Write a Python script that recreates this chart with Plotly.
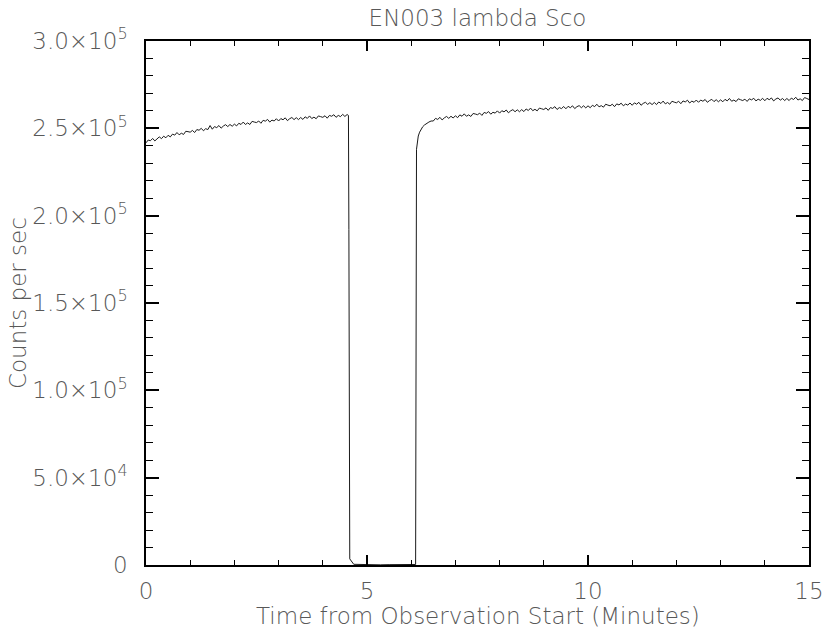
import numpy as np
import plotly.graph_objects as go

# Count rate in units of 10^3 counts/sec, sampled every 0.05 min
CADENCE = 0.05

# Before the occultation: t = 0.00 ... 4.55 min
pre_start = 0.0
pre_rate = [
    241.7, 243.3, 242.9, 244.2, 242.8, 244.2, 245.1, 244.1, 245.5, 244.6,
    246.0, 245.1, 246.7, 246.1, 247.6, 246.3, 247.2, 246.5, 248.3, 248.1,
    247.8, 248.8, 247.6, 249.3, 248.9, 250.0, 248.6, 249.8, 249.3, 251.6,
    249.5, 251.0, 250.4, 251.6, 250.1, 251.3, 252.1, 251.0, 252.2, 251.2,
    252.4, 251.4, 252.9, 252.2, 253.6, 252.2, 253.1, 252.2, 254.0, 253.6,
    253.3, 254.2, 252.9, 254.6, 254.1, 255.1, 253.6, 254.7, 254.2, 255.5,
    254.2, 255.6, 254.9, 256.0, 254.4, 255.5, 256.2, 255.0, 256.1, 255.0,
    256.2, 255.1, 256.6, 255.7, 257.1, 255.6, 256.4, 255.5, 257.1, 256.7,
    256.3, 257.2, 255.8, 257.4, 256.9, 257.8, 256.3, 257.4, 256.7, 258.0,
    256.8, 257.9,
]

# Ingress, occulted interval and egress (irregular sampling)
gap_time = [4.58, 4.59, 4.61, 4.70, 4.90, 5.10, 5.30, 5.50, 5.70, 5.90,
            6.10, 6.12, 6.14, 6.16, 6.19, 6.22, 6.26, 6.30, 6.35, 6.40, 6.45]
gap_rate = [257.4, 192.0, 3.5, 0.4, 0.2, 0.3, 0.1, 0.2, 0.3, 0.2,
            0.3, 238.0, 242.8, 245.6, 247.8, 249.4, 250.9, 251.9, 252.9, 253.6, 254.2]

# After the occultation: t = 6.50 ... 15.00 min
post_start = 6.50
post_rate = [
    254.2, 255.7, 255.1, 256.3, 254.8, 256.0, 256.8, 255.7, 256.9, 255.9,
    257.2, 256.1, 257.7, 256.9, 258.3, 256.9, 257.7, 256.8, 258.5, 258.2,
    257.8, 258.7, 257.4, 259.1, 258.6, 259.6, 258.1, 259.2, 258.7, 260.0,
    258.7, 260.1, 259.4, 260.5, 258.9, 260.0, 260.7, 259.5, 260.6, 259.5,
    260.7, 259.6, 261.1, 260.2, 261.6, 260.1, 260.9, 260.0, 261.6, 261.2,
    260.8, 261.7, 260.3, 261.9, 261.4, 262.4, 260.8, 261.9, 261.3, 262.5,
    261.2, 262.6, 261.8, 262.9, 261.3, 262.4, 263.0, 261.8, 262.9, 261.7,
    262.9, 261.8, 263.2, 262.4, 263.8, 262.3, 263.0, 262.1, 263.8, 263.3,
    262.9, 263.8, 262.4, 264.0, 263.4, 264.4, 262.9, 263.9, 263.3, 264.5,
    263.2, 264.6, 263.8, 264.9, 263.2, 264.3, 264.9, 263.7, 264.7, 263.6,
    264.8, 263.6, 265.1, 264.2, 265.6, 264.0, 264.8, 263.8, 265.5, 265.0,
    264.6, 265.5, 264.1, 265.7, 265.1, 266.1, 264.5, 265.6, 264.9, 266.2,
    264.9, 266.2, 265.5, 266.5, 264.9, 265.9, 266.6, 265.3, 266.4, 265.2,
    266.3, 265.2, 266.6, 265.7, 267.1, 265.5, 266.2, 265.3, 266.9, 266.4,
    265.9, 266.7, 265.4, 266.9, 266.3, 267.2, 265.7, 266.7, 266.0, 267.2,
    265.8, 267.2, 266.4, 267.4, 265.7, 266.8, 267.4, 266.1, 267.1, 265.9,
    267.1, 265.9, 267.3, 266.5, 267.8, 266.2, 266.9, 265.9, 267.6, 267.1,
    266.5,
]

y_tick_vals = [0, 5e4, 1e5, 1.5e5, 2e5, 2.5e5, 3e5]
y_tick_text = ["0", "5.0×10<sup>4</sup>", "1.0×10<sup>5</sup>", "1.5×10<sup>5</sup>",
               "2.0×10<sup>5</sup>", "2.5×10<sup>5</sup>", "3.0×10<sup>5</sup>"]
x_tick_vals = [0, 5, 10, 15]
x_tick_text = ["0", "5", "10", "15"]

pre_time = np.round(pre_start + CADENCE * np.arange(len(pre_rate)), 3)
post_time = np.round(post_start + CADENCE * np.arange(len(post_rate)), 3)

time = np.concatenate([pre_time, gap_time, post_time])
rate = np.concatenate([pre_rate, gap_rate, post_rate]) * 1000.0

TEXT = "#585858"
FONT = "DejaVu Sans"
SIZE = 23
tfont = dict(family=FONT, size=SIZE, color=TEXT, weight=300)

fig = go.Figure(
    go.Scatter(x=time, y=rate, mode="lines",
               line=dict(color="#1a1a1a", width=1), hoverinfo="skip")
)

fig.update_layout(
    width=825, height=632,
    margin=dict(l=146, r=16, t=41, b=67),
    paper_bgcolor="white", plot_bgcolor="white",
    showlegend=False,
    font=tfont,
    title=dict(text="EN003 lambda Sco", x=0.5, xref="paper", xanchor="center",
               y=0.972, yref="container", yanchor="middle", font=tfont),
    annotations=[
        # axis titles placed in paper coordinates relative to the plot box
        dict(text="Time from Observation Start (Minutes)", xref="paper", yref="paper",
             x=0.5, y=-0.0973, xanchor="center", yanchor="middle",
             showarrow=False, font=tfont),
        dict(text="Counts per sec", xref="paper", yref="paper",
             x=-0.193, y=0.5, xanchor="center", yanchor="middle", textangle=-90,
             showarrow=False, font=tfont),
    ],
)

fig.update_xaxes(
    range=[0, 15], tickvals=x_tick_vals, ticktext=x_tick_text,
    automargin=False,
    showgrid=False, zeroline=False,
    showline=True, linecolor="black", linewidth=1.5, mirror="ticks",
    ticks="inside", ticklen=10, tickwidth=1.5, tickcolor="black",
    minor=dict(dtick=1, ticks="inside", ticklen=5, tickwidth=1.2, tickcolor="black", showgrid=False),
    tickfont=tfont,
    ticklabelstandoff=5,
)

fig.update_yaxes(
    range=[0, 3e5], tickvals=y_tick_vals, ticktext=y_tick_text,
    automargin=False,
    showgrid=False, zeroline=False,
    showline=True, linecolor="black", linewidth=1.5, mirror="ticks",
    ticks="inside", ticklen=13, tickwidth=1.5, tickcolor="black",
    minor=dict(dtick=1e4, ticks="inside", ticklen=7, tickwidth=1.2, tickcolor="black", showgrid=False),
    tickfont=tfont,
    ticklabelstandoff=12,
)

fig.write_html("out.html")
